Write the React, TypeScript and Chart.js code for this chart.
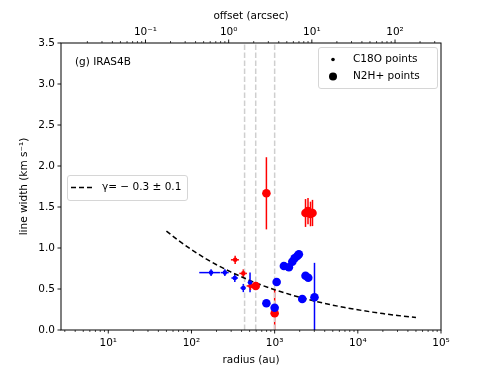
import React, { useEffect, useRef } from 'react';
import { Chart, registerables } from 'chart.js';

Chart.register(...registerables);

// ---- axis ranges ----
const RADIUS_MIN = 2.7;
const RADIUS_MAX = 1e5;
const DISTANCE_PC = 280; // au per arcsec
const WIDTH_MIN = 0;
const WIDTH_MAX = 3.5;

// ---- C18O points (small markers) ----
const c18oBlueRadius = [172, 252, 332, 420, 506];
const c18oBlueWidth = [0.7, 0.7, 0.634, 0.512, 0.58];
const c18oBlueRadiusErr = [48, 28, 30, 32, 30];
const c18oBlueWidthErr = [0.04, 0.04, 0.05, 0.05, 0.12];

const c18oRedRadius = [335, 420, 512];
const c18oRedWidth = [0.856, 0.69, 0.537];
const c18oRedRadiusErr = [37, 44, 52];
const c18oRedWidthErr = [0.05, 0.05, 0.05];

// ---- N2H+ points (large markers) ----
const n2hRedRadius = [796, 2350, 2518, 2698, 2851, 592, 1000];
const n2hRedWidth = [1.667, 1.427, 1.451, 1.415, 1.427, 0.537, 0.204];
const n2hRedWidthErr = [0.44, 0.17, 0.16, 0.15, 0.16, 0.03, 0.3];

const n2hBlueRadius = [796, 1000, 1057, 1292, 1483, 1630, 1738, 1872, 1955, 2350, 2535, 2148, 3013];
const n2hBlueWidth = [0.326, 0.272, 0.585, 0.78, 0.765, 0.833, 0.874, 0.902, 0.923, 0.662, 0.638, 0.378, 0.399];
const n2hBlueWidthErr = [0.02, 0.02, 0.02, 0.02, 0.02, 0.02, 0.02, 0.02, 0.02, 0.02, 0.02, 0.02, 0.42];

// ---- power-law fit (gamma = -0.3) ----
const fitRadius = [50, 70, 100, 150, 200, 300, 500, 700, 1000, 1500, 2000, 3000, 5000, 7000, 10000, 15000, 20000, 30000, 50000];
const fitWidth = [1.206, 1.09, 0.98, 0.867, 0.796, 0.705, 0.604, 0.546, 0.491, 0.435, 0.399, 0.353, 0.303, 0.274, 0.246, 0.218, 0.2, 0.177, 0.152];

// ---- vertical reference lines (au) ----
const vLineRadius = [435, 592, 1000];

// ---- text ----
const PANEL_LABEL = '(g) IRAS4B';
const FIT_LABEL = 'γ= − 0.3 ± 0.1';
const LEGEND_LABELS = ['C18O points', 'N2H+ points'];
const X_TITLE = 'radius (au)';
const X2_TITLE = 'offset (arcsec)';
const Y_TITLE = 'line width (km s⁻¹)';
const Y_TICKS = [0, 0.5, 1, 1.5, 2, 2.5, 3, 3.5];

const FONT = 'DejaVu Sans';
const FS = 10.5;
const BLUE = '#0000ff';
const RED = '#ff0000';

const SUP: Record<string, string> = { '-': '⁻', '0': '⁰', '1': '¹', '2': '²', '3': '³', '4': '⁴', '5': '⁵', '6': '⁶', '7': '⁷', '8': '⁸', '9': '⁹' };

function logTicks(min: number, max: number) {
  const out: number[] = [];
  for (let e = Math.floor(Math.log10(min)); e <= Math.ceil(Math.log10(max)); e++) {
    for (let m = 1; m <= 9; m++) {
      const v = m * Math.pow(10, e);
      if (v >= min * 0.9999 && v <= max * 1.0001) out.push(v);
    }
  }
  return out;
}
function isPow10(v: number) {
  const e = Math.round(Math.log10(v));
  return Math.abs(v / Math.pow(10, e) - 1) < 1e-6;
}
function powLabel(v: number) {
  if (!isPow10(v)) return '';
  const e = String(Math.round(Math.log10(v)));
  return '10' + e.split('').map((c) => SUP[c]).join('');
}

const errorBarPlugin = {
  id: 'errorBars',
  beforeDatasetsDraw(chart: any) {
    const { ctx, chartArea } = chart;
    const xs = chart.scales.x;
    const ys = chart.scales.y;
    ctx.save();
    ctx.beginPath();
    ctx.rect(chartArea.left, chartArea.top, chartArea.right - chartArea.left, chartArea.bottom - chartArea.top);
    ctx.clip();
    chart.data.datasets.forEach((ds: any) => {
      if (!ds.errX && !ds.errY) return;
      ctx.strokeStyle = ds.backgroundColor;
      ctx.lineWidth = 1.5;
      ds.data.forEach((p: any, i: number) => {
        const cx = xs.getPixelForValue(p.x);
        const cy = ys.getPixelForValue(p.y);
        if (ds.errX) {
          const e = ds.errX[i];
          ctx.beginPath();
          ctx.moveTo(xs.getPixelForValue(p.x - e), cy);
          ctx.lineTo(xs.getPixelForValue(p.x + e), cy);
          ctx.stroke();
        }
        if (ds.errY) {
          const e = ds.errY[i];
          ctx.beginPath();
          ctx.moveTo(cx, ys.getPixelForValue(p.y - e));
          ctx.lineTo(cx, ys.getPixelForValue(p.y + e));
          ctx.stroke();
        }
      });
    });
    // vertical dashed reference lines
    ctx.strokeStyle = '#cfcfcf';
    ctx.lineWidth = 1.5;
    ctx.setLineDash([5.5, 2.5]);
    vLineRadius.forEach((r) => {
      const x = xs.getPixelForValue(r);
      ctx.beginPath();
      ctx.moveTo(x, chartArea.bottom);
      ctx.lineTo(x, chartArea.top);
      ctx.stroke();
    });
    ctx.restore();
  },
};

const decorPlugin = {
  id: 'decor',
  afterDraw(chart: any) {
    const { ctx, chartArea } = chart;
    const { left, right, top, bottom } = chartArea;
    ctx.save();
    // frame
    ctx.strokeStyle = '#000';
    ctx.lineWidth = 1;
    ctx.strokeRect(left, top, right - left, bottom - top);
    // tick marks
    const drawTicks = (scale: any, dir: string) => {
      scale.ticks.forEach((t: any) => {
        const major = scale.type === 'logarithmic' ? isPow10(t.value) : true;
        const len = major ? 3.5 : 2;
        const p = scale.getPixelForValue(t.value);
        ctx.lineWidth = major ? 0.9 : 0.7;
        ctx.beginPath();
        if (dir === 'down') { ctx.moveTo(p, bottom); ctx.lineTo(p, bottom + len); }
        if (dir === 'up') { ctx.moveTo(p, top); ctx.lineTo(p, top - len); }
        if (dir === 'left') { ctx.moveTo(left, p); ctx.lineTo(left - len, p); }
        ctx.stroke();
      });
    };
    drawTicks(chart.scales.x, 'down');
    drawTicks(chart.scales.x2, 'up');
    drawTicks(chart.scales.y, 'left');

    ctx.font = `${FS}px "${FONT}"`;
    ctx.fillStyle = '#000';
    ctx.textBaseline = 'middle';
    ctx.textAlign = 'left';
    // panel label
    ctx.fillText(PANEL_LABEL, left + 14, top + 19);

    const box = (x: number, y: number, w: number, h: number) => {
      ctx.beginPath();
      ctx.roundRect(x + 0.5, y + 0.5, w, h, 2.5);
      ctx.fillStyle = 'rgba(255,255,255,0.8)';
      ctx.fill();
      ctx.strokeStyle = '#d6d6d6';
      ctx.lineWidth = 1;
      ctx.stroke();
    };
    // marker legend (upper right)
    box(318, 47, 119, 41);
    ctx.fillStyle = '#000';
    ctx.beginPath(); ctx.arc(333, 59.5, 1.8, 0, Math.PI * 2); ctx.fill();
    ctx.beginPath(); ctx.arc(333, 76.5, 4, 0, Math.PI * 2); ctx.fill();
    ctx.fillText(LEGEND_LABELS[0], 353, 59.5);
    ctx.fillText(LEGEND_LABELS[1], 353, 76.5);

    // fit legend (left)
    box(67, 175, 120, 25);
    ctx.strokeStyle = '#000';
    ctx.lineWidth = 1.5;
    ctx.setLineDash([5, 3]);
    ctx.beginPath(); ctx.moveTo(71, 187.5); ctx.lineTo(92, 187.5); ctx.stroke();
    ctx.setLineDash([]);
    ctx.fillStyle = '#000';
    ctx.fillText(FIT_LABEL, 102, 187.5);
    ctx.restore();
  },
};

const pts = (xs: number[], ys: number[]) => xs.map((x, i) => ({ x, y: ys[i] }));

export default function App() {
  const ref = useRef<HTMLCanvasElement>(null);
  useEffect(() => {
    const tickFont = { family: FONT, size: FS };
    const chart = new Chart(ref.current as HTMLCanvasElement, {
      type: 'scatter',
      data: {
        datasets: [
          {
            label: 'N2H+ blue', data: pts(n2hBlueRadius, n2hBlueWidth), errY: n2hBlueWidthErr,
            backgroundColor: BLUE, borderColor: BLUE, pointRadius: 4.3, borderWidth: 0,
          } as any,
          {
            label: 'N2H+ red', data: pts(n2hRedRadius, n2hRedWidth), errY: n2hRedWidthErr,
            backgroundColor: RED, borderColor: RED, pointRadius: 4.3, borderWidth: 0,
          } as any,
          {
            label: 'C18O blue', data: pts(c18oBlueRadius, c18oBlueWidth), errX: c18oBlueRadiusErr, errY: c18oBlueWidthErr,
            backgroundColor: BLUE, borderColor: BLUE, pointRadius: 2.3, borderWidth: 0,
          } as any,
          {
            label: 'C18O red', data: pts(c18oRedRadius, c18oRedWidth), errX: c18oRedRadiusErr, errY: c18oRedWidthErr,
            backgroundColor: RED, borderColor: RED, pointRadius: 2.3, borderWidth: 0,
          } as any,
          {
            type: 'line', label: 'fit', data: pts(fitRadius, fitWidth), showLine: true,
            borderColor: '#000', backgroundColor: '#000', borderWidth: 1.5, borderDash: [5, 3],
            pointRadius: 0, tension: 0,
          } as any,
        ],
      },
      options: {
        animation: false,
        responsive: false,
        devicePixelRatio: 1,
        layout: { padding: { left: 0, right: 49, top: 0, bottom: 0 } },
        plugins: { legend: { display: false }, tooltip: { enabled: false } },
        scales: {
          x: {
            type: 'logarithmic', position: 'bottom', min: RADIUS_MIN, max: RADIUS_MAX,
            afterBuildTicks: (s: any) => { s.ticks = logTicks(s.min, s.max).map((v) => ({ value: v })); },
            afterFit: (s: any) => { s.height = 38; },
            grid: { display: true, drawOnChartArea: false, drawTicks: false },
            border: { display: false },
            ticks: { autoSkip: false, maxRotation: 0, padding: 7, color: '#000', font: tickFont, callback: (v: any) => powLabel(Number(v)) },
            title: { display: true, text: X_TITLE, color: '#000', font: tickFont, padding: { top: 0, bottom: 1 } },
          },
          x2: {
            type: 'logarithmic', position: 'top', min: RADIUS_MIN / DISTANCE_PC, max: RADIUS_MAX / DISTANCE_PC,
            afterBuildTicks: (s: any) => { s.ticks = logTicks(s.min * 1.1, s.max).map((v) => ({ value: v })); },
            afterFit: (s: any) => { s.height = 43; },
            grid: { display: true, drawOnChartArea: false, drawTicks: false },
            border: { display: false },
            ticks: { autoSkip: false, maxRotation: 0, padding: 4, color: '#000', font: tickFont, callback: (v: any) => powLabel(Number(v)) },
            title: { display: true, text: X2_TITLE, color: '#000', font: tickFont, padding: { top: 10, bottom: 0 } },
          },
          y: {
            type: 'linear', position: 'left', min: WIDTH_MIN, max: WIDTH_MAX,
            afterBuildTicks: (s: any) => { s.ticks = Y_TICKS.map((v) => ({ value: v })); },
            afterFit: (s: any) => { s.width = 61; },
            grid: { display: true, drawOnChartArea: false, drawTicks: false },
            border: { display: false },
            ticks: { autoSkip: false, padding: 6, color: '#000', font: tickFont, callback: (v: any) => Number(v).toFixed(1) },
            title: { display: true, text: Y_TITLE, color: '#000', font: tickFont, padding: { top: 18, bottom: 0 } },
          },
        },
      } as any,
      plugins: [errorBarPlugin, decorPlugin],
    });
    return () => chart.destroy();
  }, []);
  return (
    <div style={{ position: 'fixed', left: 0, top: 0, width: 490, height: 368, background: '#fff' }}>
      <canvas ref={ref} width={490} height={368} style={{ display: 'block', width: 490, height: 368 }} />
    </div>
  );
}
